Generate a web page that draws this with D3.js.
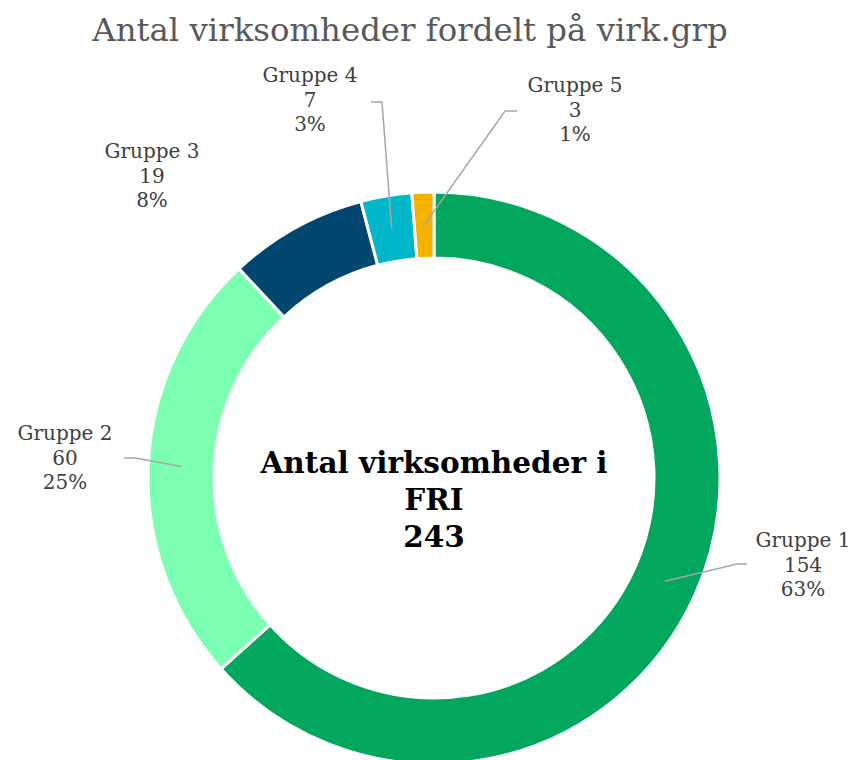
<!DOCTYPE html>
<meta charset="utf-8">
<script src="https://d3js.org/d3.v7.min.js"></script>
<style>
    body { margin: 0; background: #fff; }
    text { font-family: Georgia, "DejaVu Serif", serif; }
</style>
<div id="vis"></div>
<script>
    // data
    var groups = ["Gruppe 1", "Gruppe 2", "Gruppe 3", "Gruppe 4", "Gruppe 5"];
    var counts = [154, 60, 19, 7, 3];
    var colors = ["#02A65D", "#7CFFB2", "#01466E", "#00B6C8", "#F6B000"];
    var centerLines = ["Antal virksomheder i", "FRI", "243"];

    // label anchors (text centre) and leader elbows, layout only
    var labelAt = [[803, 541], [65, 434], [152, 152], [310, 76], [575, 86]];
    var elbowAt = [[737, 564], [135, 458], null, [382, 102], [505, 111]];
    var lineEnd = [747, 124, null, 371, 517];

    var W = 856, H = 760;
    var cx = 434, cy = 478, rOut = 286, rIn = 220;

    var svg = d3.select("#vis").append("svg")
        .attr("width", W)
        .attr("height", H);

    svg.append("text")
        .attr("x", 410)
        .attr("y", 41)
        .attr("text-anchor", "middle")
        .style("font-size", "32.4px")
        .style("fill", "#595959")
        .text("Antal virksomheder fordelt på virk.grp");

    var total = d3.sum(counts);
    var pie = d3.pie().sort(null).value(function (d) { return d; });
    var arcs = pie(counts);
    var arc = d3.arc().innerRadius(rIn).outerRadius(rOut);
    var midArc = d3.arc().innerRadius(253).outerRadius(253);

    var g = svg.append("g").attr("transform", "translate(" + cx + "," + cy + ")");

    g.selectAll("path.slice")
        .data(arcs)
        .enter()
        .append("path")
        .attr("class", "slice")
        .attr("d", arc)
        .attr("fill", function (d, i) { return colors[i]; })
        .attr("stroke", "#fff")
        .attr("stroke-width", 3);

    // leader lines
    arcs.forEach(function (d, i) {
        if (!elbowAt[i]) return;
        var c = midArc.centroid(d);
        var pts = [[c[0] + cx, c[1] + cy], elbowAt[i], [lineEnd[i], elbowAt[i][1]]];
        svg.append("path")
            .attr("d", d3.line()(pts))
            .attr("fill", "none")
            .attr("stroke", "#A6A6A6")
            .attr("stroke-width", 1.5);
    });

    // labels
    arcs.forEach(function (d, i) {
        var t = svg.append("text")
            .attr("x", labelAt[i][0])
            .attr("y", labelAt[i][1])
            .attr("text-anchor", "middle")
            .style("font-size", "20px")
            .style("fill", "#404040");
        var lines = [groups[i], counts[i], Math.round(counts[i] / total * 100) + "%"];
        lines.forEach(function (s, k) {
            t.append("tspan")
                .attr("x", labelAt[i][0])
                .attr("dy", k === 0 ? 6 : 24.5)
                .text(s);
        });
    });

    // centre text
    var ct = svg.append("text")
        .attr("x", cx)
        .attr("y", 473)
        .attr("text-anchor", "middle")
        .style("font-size", "29.5px")
        .style("font-weight", "bold")
        .style("fill", "#000");
    centerLines.forEach(function (s, k) {
        ct.append("tspan")
            .attr("x", cx)
            .attr("dy", k === 0 ? 0 : 37)
            .text(s);
    });
</script>
